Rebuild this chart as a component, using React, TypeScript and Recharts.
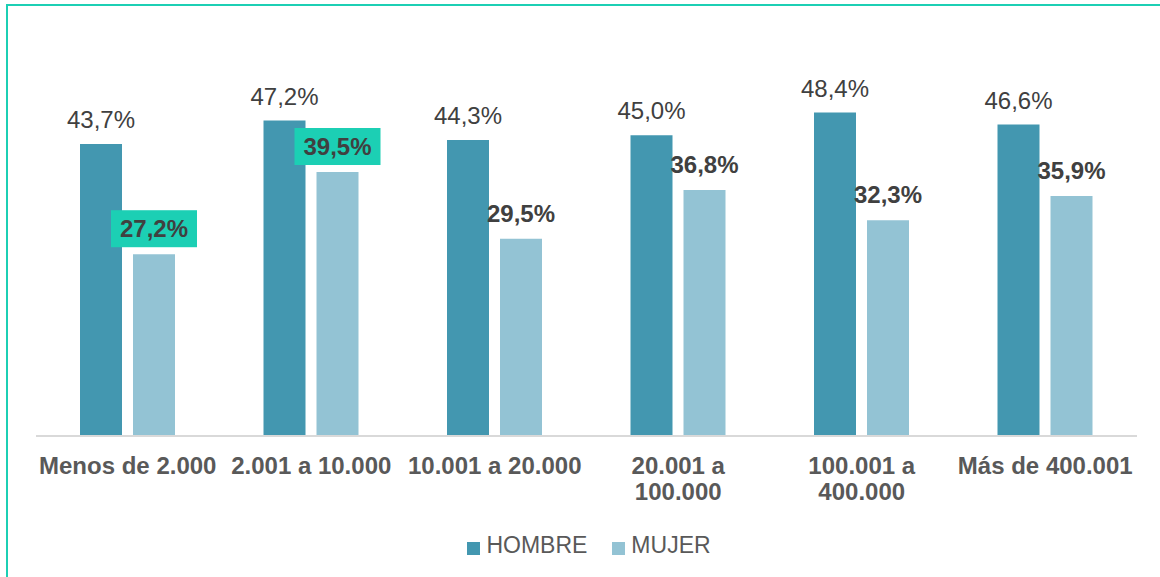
import React from "react";
import { BarChart, Bar, XAxis, YAxis, Legend, LabelList } from "recharts";

const categories = [
  "Menos de 2.000",
  "2.001 a 10.000",
  "10.001 a 20.000",
  "20.001 a 100.000",
  "100.001 a 400.000",
  "Más de 400.001",
];
// how each category label is broken into lines under the axis
const tickLines = [
  ["Menos de 2.000"],
  ["2.001 a 10.000"],
  ["10.001 a 20.000"],
  ["20.001 a", "100.000"],
  ["100.001 a", "400.000"],
  ["Más de 400.001"],
];
const hombre = [43.7, 47.2, 44.3, 45.0, 48.4, 46.6];
const mujer = [27.2, 39.5, 29.5, 36.8, 32.3, 35.9];
// MUJER labels that get the highlighted box
const highlighted = [0, 1];

const data = categories.map((name, i) => ({ name, HOMBRE: hombre[i], MUJER: mujer[i] }));

const fmt = (v: number) => v.toFixed(1).replace(".", ",") + "%";

const CategoryTick = (props: any) => {
  const { x, y, payload, index } = props;
  const lines = tickLines[index] ?? [payload.value];
  return (
    <g>
      {lines.map((l: string, i: number) => (
        <text
          key={i}
          x={x}
          y={y + 30 + i * 26}
          textAnchor="middle"
          fill="#595959"
          fontSize={24}
          fontWeight="bold"
        >
          {l}
        </text>
      ))}
    </g>
  );
};

const HombreLabel = (props: any) => {
  const { x, y, width, value } = props;
  return (
    <text x={x + width / 2} y={y - 16} textAnchor="middle" fill="#404040" fontSize={24}>
      {fmt(value)}
    </text>
  );
};

const MujerLabel = (props: any) => {
  const { x, y, width, value, index } = props;
  const cx = x + width / 2;
  const hl = highlighted.includes(index);
  return (
    <g>
      {hl && <rect x={cx - 43} y={y - 44} width={86} height={37} fill="#1ccfb4" />}
      <text x={cx} y={y - 17} textAnchor="middle" fill="#404040" fontSize={24} fontWeight="bold">
        {fmt(value)}
      </text>
    </g>
  );
};

export default function App() {
  return (
    <div
      style={{
        position: "absolute",
        left: 0,
        top: 0,
        width: 1160,
        height: 577,
        background: "#fff",
        overflow: "hidden",
        fontFamily: "'Liberation Sans', Arial, sans-serif",
      }}
    >
      <div
        style={{
          position: "absolute",
          left: 6,
          top: 4,
          width: 1170,
          height: 600,
          borderLeft: "2px solid #1ccfb4",
          borderTop: "2px solid #1ccfb4",
        }}
      />
      <div style={{ position: "absolute", left: 0, top: 0 }}>
        <BarChart
          width={1160}
          height={577}
          data={data}
          margin={{ top: 35, right: 23, bottom: 0, left: 36 }}
          barGap={11}
          barSize={42}
        >
          <XAxis
            dataKey="name"
            axisLine={{ stroke: "#d9d9d9", strokeWidth: 2 }}
            tickLine={false}
            tick={<CategoryTick />}
            interval={0}
            height={114}
          />
          <YAxis hide domain={[0, 60]} />
          <Legend
            verticalAlign="bottom"
            iconType="square"
            iconSize={13}
            wrapperStyle={{ bottom: 18, left: 51 }}
            formatter={(v: string) => (
              <span style={{ color: "#595959", fontSize: 23, marginLeft: 2, marginRight: 15 }}>{v}</span>
            )}
          />
          <Bar dataKey="HOMBRE" fill="#4397b0" isAnimationActive={false}>
            <LabelList dataKey="HOMBRE" content={<HombreLabel />} />
          </Bar>
          <Bar dataKey="MUJER" fill="#93c3d4" isAnimationActive={false}>
            <LabelList dataKey="MUJER" content={<MujerLabel />} />
          </Bar>
        </BarChart>
      </div>
    </div>
  );
}
